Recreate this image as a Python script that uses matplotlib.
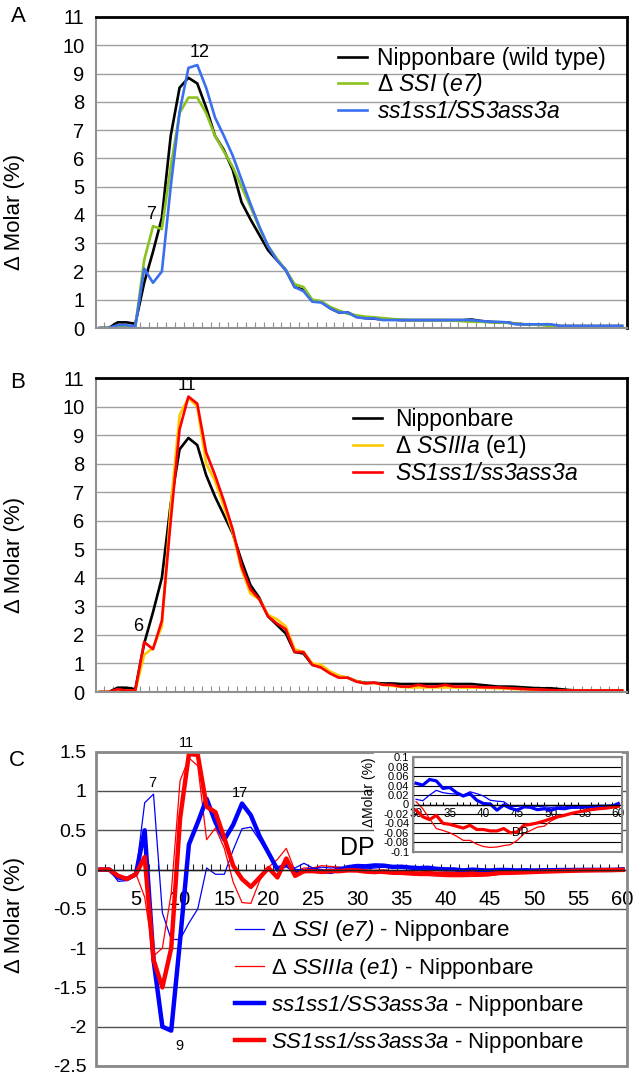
import numpy as np
import matplotlib
matplotlib.use("Agg")
import matplotlib.pyplot as plt
from matplotlib.patches import Rectangle

plt.rcParams['font.family'] = ['Liberation Sans', 'DejaVu Sans']
plt.rcParams['mathtext.fontset'] = 'custom'
plt.rcParams['mathtext.rm'] = 'Liberation Sans:italic'
plt.rcParams['mathtext.it'] = 'Liberation Sans:italic'
plt.rcParams['mathtext.bf'] = 'Liberation Sans:bold'
plt.rcParams['mathtext.sf'] = 'Liberation Sans:italic'

# ---------------- data ----------------
dp = np.arange(1, 61)

# Panel A
a_nip = [0, 0, 0.2, 0.2, 0.15, 1.6, 2.7, 3.9, 6.8, 8.5,
         8.85, 8.65, 7.8, 6.8, 6.3, 5.6, 4.45, 3.85, 3.3, 2.75,
         2.4, 2.05, 1.45, 1.35, 0.95, 0.93, 0.7, 0.55, 0.55, 0.4,
         0.35, 0.33, 0.3, 0.3, 0.28, 0.28, 0.28, 0.28, 0.28, 0.28,
         0.28, 0.28, 0.3, 0.25, 0.22, 0.2, 0.2, 0.15, 0.13, 0.13,
         0.12, 0.1, 0.07, 0.07, 0.07, 0.07, 0.07, 0.07, 0.07, 0.07]
a_ssi = [0, 0, 0.05, 0.05, 0.05, 2.4, 3.6, 3.5, 5.7, 7.6,
         8.15, 8.15, 7.6, 6.8, 6.25, 5.7, 5.0, 4.3, 3.55, 2.9,
         2.45, 2.05, 1.55, 1.45, 1.0, 0.95, 0.75, 0.62, 0.5, 0.45,
         0.4, 0.38, 0.35, 0.32, 0.3, 0.28, 0.28, 0.28, 0.28, 0.28,
         0.26, 0.24, 0.22, 0.22, 0.2, 0.2, 0.18, 0.15, 0.13, 0.12,
         0.1, 0.07, 0.05, 0.05, 0.05, 0.05, 0.05, 0.05, 0.05, 0.05]
a_dbl = [0, 0, 0.1, 0.1, 0.05, 2.1, 1.6, 2.0, 5.0, 7.65,
         9.2, 9.3, 8.5, 7.45, 6.8, 6.1, 5.25, 4.4, 3.6, 2.9,
         2.4, 2.05, 1.45, 1.3, 0.93, 0.9, 0.7, 0.55, 0.55, 0.38,
         0.34, 0.34, 0.28, 0.28, 0.28, 0.28, 0.28, 0.28, 0.28, 0.28,
         0.28, 0.28, 0.28, 0.25, 0.22, 0.22, 0.2, 0.13, 0.13, 0.13,
         0.13, 0.13, 0.07, 0.07, 0.07, 0.07, 0.07, 0.07, 0.07, 0.07]

# Panel B
b_nip = [0, 0, 0.15, 0.15, 0.1, 1.7, 2.8, 4.0, 6.6, 8.5,
         8.9, 8.65, 7.6, 6.85, 6.2, 5.55, 4.6, 3.75, 3.3, 2.65,
         2.35, 2.05, 1.4, 1.35, 0.95, 0.9, 0.7, 0.55, 0.5, 0.38,
         0.32, 0.32, 0.3, 0.3, 0.28, 0.28, 0.28, 0.28, 0.28, 0.28,
         0.28, 0.28, 0.28, 0.25, 0.22, 0.19, 0.19, 0.18, 0.16, 0.14,
         0.13, 0.13, 0.1, 0.07, 0.05, 0.05, 0.05, 0.05, 0.05, 0.05]
b_ssiiia = [0, 0, 0.05, 0.05, 0.05, 1.3, 1.55, 2.3, 6.5, 9.7,
            10.3, 10.0, 8.0, 7.4, 6.5, 5.6, 4.3, 3.45, 3.25, 2.7,
            2.55, 2.3, 1.5, 1.4, 1.0, 0.95, 0.72, 0.58, 0.5, 0.38,
            0.3, 0.32, 0.25, 0.22, 0.18, 0.16, 0.16, 0.16, 0.16, 0.16,
            0.16, 0.15, 0.15, 0.15, 0.14, 0.13, 0.12, 0.1, 0.1, 0.08,
            0.07, 0.05, 0.04, 0.04, 0.04, 0.04, 0.04, 0.04, 0.04, 0.04]
b_dbl = [0, 0, 0.1, 0.05, 0.05, 1.75, 1.5, 2.5, 6.0, 9.2,
         10.35, 10.1, 8.4, 7.6, 6.7, 5.7, 4.4, 3.6, 3.25, 2.65,
         2.4, 2.2, 1.4, 1.4, 0.95, 0.85, 0.65, 0.5, 0.5, 0.36,
         0.3, 0.33, 0.25, 0.25, 0.19, 0.19, 0.25, 0.19, 0.19, 0.25,
         0.19, 0.19, 0.19, 0.17, 0.16, 0.16, 0.14, 0.12, 0.1, 0.09,
         0.08, 0.07, 0.05, 0.05, 0.05, 0.05, 0.05, 0.05, 0.05, 0.05]

# Panel C (difference from Nipponbare)
c_ssi = [0, 0, -0.15, -0.14, -0.06, 0.85, 0.96, -0.55, -0.89, -0.89,
         -0.68, -0.5, 0.02, -0.06, -0.06, 0.25, 0.52, 0.54, 0.37, 0.19,
         0.04, 0.05, 0.02, 0.08, 0.02, 0.03, 0.02, 0.03, 0.02, 0.011,
         0.008, 0.02, 0.03, 0.025, 0.023, 0.022, 0.02, 0.027, 0.023, 0.018,
         0.009, 0.007, 0.006, -0.004, -0.004, -0.002, -0.003, -0.004, -0.005, -0.006,
         -0.005, -0.005, -0.004, -0.004, -0.003, -0.003, -0.002, -0.002, -0.001, 0.001]
c_ssiiia = [0, 0, -0.1, -0.1, -0.05, -0.35, -1.1, -1.0, -0.3, 1.13,
            1.42, 1.32, 0.38, 0.53, 0.27, -0.16, -0.42, -0.43, -0.14, 0.03,
            0.13, 0.27, -0.02, 0.02, 0.02, 0.05, 0.04, 0.03, 0.01, 0.006,
            -0.009, -0.03, -0.051, -0.055, -0.06, -0.067, -0.076, -0.076, -0.084, -0.089,
            -0.091, -0.09, -0.087, -0.085, -0.076, -0.062, -0.055, -0.048, -0.046, -0.035,
            -0.028, -0.023, -0.019, -0.016, -0.013, -0.011, -0.009, -0.008, -0.006, -0.004]
c_ss1 = [0, 0, -0.1, -0.12, -0.06, 0.5, -1.15, -2.0, -2.05, -0.9,
         0.32, 0.6, 0.9, 0.6, 0.38, 0.57, 0.84, 0.69, 0.42, 0.21,
         0.0, 0.06, -0.02, -0.02, 0.0, -0.02, -0.03, 0.0, 0.03, 0.045,
         0.041, 0.053, 0.05, 0.034, 0.036, 0.025, 0.018, 0.023, 0.009, 0.002,
         0.001, -0.012, -0.001, -0.008, -0.012, -0.005, -0.006, -0.011, -0.009, -0.012,
         -0.008, -0.009, -0.006, -0.006, -0.005, -0.004, -0.004, -0.004, -0.004, 0.002]
c_ss3 = [0, 0, -0.08, -0.12, -0.06, 0.16, -1.15, -1.5, -1.0, 0.65,
         1.47, 1.46, 0.8, 0.73, 0.4, 0.05, -0.12, -0.22, -0.1, 0.02,
         -0.1, 0.14, -0.08, -0.02, -0.02, -0.03, -0.02, -0.02, -0.01, -0.012,
         -0.026, -0.032, -0.023, -0.04, -0.042, -0.046, -0.05, -0.044, -0.053, -0.053,
         -0.056, -0.056, -0.051, -0.06, -0.058, -0.044, -0.042, -0.039, -0.035, -0.03,
         -0.026, -0.023, -0.019, -0.016, -0.013, -0.011, -0.009, -0.008, -0.006, -0.004]

ab_yticks = list(range(0, 12))
c_yticks = [1.5, 1, 0.5, 0, -0.5, -1, -1.5, -2, -2.5]
c_yticklabels = ['1.5', '1', '0.5', '0', '-0.5', '-1', '-1.5', '-2', '-2.5']
c_xticks = list(range(5, 61, 5))
in_yticks = [0.1, 0.08, 0.06, 0.04, 0.02, 0, -0.02, -0.04, -0.06, -0.08, -0.1]
in_yticklabels = ['0.1', '0.08', '0.06', '0.04', '0.02', '0', '-0.02', '-0.04', '-0.06', '-0.08', '-0.1']
in_xticks = list(range(30, 61, 5))

# text inside $...$ is rendered italic (mathtext fonts set to italic above)
labels_a = ['Nipponbare (wild type)', r'Δ $SSI$ ($e7)$', r'$ss1ss1/SS3ass3a$']
labels_b = ['Nipponbare', r'Δ $SSIIIa$ (e1)', r'$SS1ss1/ss3ass3a$']
labels_c = [r'Δ $SSI$ ($e7)$ - Nipponbare',
            r'Δ $SSIIIa$ ($e1$) - Nipponbare',
            r'$ss1ss1/SS3ass3a$ - Nipponbare',
            r'$SS1ss1/ss3ass3a$ - Nipponbare']

# ---------------- figure ----------------
W, H = 635, 1075
fig = plt.figure(figsize=(W / 100, H / 100), dpi=100)


def rect(x0, y0, x1, y1):
    return [x0 / W, 1 - y1 / H, (x1 - x0) / W, (y1 - y0) / H]


GRID_AB = '#a0a0a0'


def style_ab(ax):
    ax.set_xlim(0.5, 60.5)
    ax.set_ylim(0, 11)
    ax.set_yticks(ab_yticks)
    ax.set_xticks([])
    ax.set_xticks(np.arange(1.5, 60, 1), minor=True)
    ax.tick_params(axis='x', which='minor', direction='in', length=4.5, width=0.8, color='#909090')
    ax.tick_params(axis='y', length=0, pad=8, labelsize=14.5)
    ax.yaxis.grid(True, color=GRID_AB, lw=1)
    ax.set_axisbelow(True)
    for s in ['left', 'bottom']:
        ax.spines[s].set_color('#909090')
        ax.spines[s].set_linewidth(1.5)
    for s in ['top', 'right']:
        ax.spines[s].set_color('black')
        ax.spines[s].set_linewidth(2)
    ax.set_ylabel('Δ Molar (%)', fontsize=16)


# Panel A
axA = fig.add_axes(rect(95.5, 17, 626.5, 328))
style_ab(axA)
axA.yaxis.set_label_coords(-0.133, 0.373)
lA = []
lA += axA.plot(dp, a_nip, color='black', lw=1.9)
lA += axA.plot(dp, a_ssi, color='#8cc21e', lw=1.9)
lA += axA.plot(dp, a_dbl, color='#3a70f0', lw=1.9)
axA.legend(lA, labels_a, loc='upper left', bbox_to_anchor=(0.457, 0.905), frameon=False,
           fontsize=16.5, handlelength=1.25, handletextpad=0.45, labelspacing=0.08,
           borderpad=0, borderaxespad=0)
axA.text(6.8, 4.0, '7', fontsize=13, ha='center', va='center')
axA.text(12.3, 9.75, '12', fontsize=13, ha='center', va='center')
fig.text(18 / W, 1 - 16 / H, 'A', fontsize=16, ha='center', va='center')

# Panel B
axB = fig.add_axes(rect(95.5, 378, 626.5, 692))
style_ab(axB)
axB.yaxis.set_label_coords(-0.133, 0.436)
lB = []
lB += axB.plot(dp, b_nip, color='black', lw=1.9)
lB += axB.plot(dp, b_ssiiia, color='#ffc800', lw=1.9)
lB += axB.plot(dp, b_dbl, color='#ff0000', lw=1.9)
axB.legend(lB, labels_b, loc='upper left', bbox_to_anchor=(0.485, 0.905), frameon=False,
           fontsize=16.5, handlelength=1.25, handletextpad=0.6, labelspacing=0.1,
           borderpad=0, borderaxespad=0)
axB.text(5.3, 2.3, '6', fontsize=13, ha='center', va='center')
axB.text(10.8, 10.75, '11', fontsize=13, ha='center', va='center')
fig.text(18 / W, 1 - 382 / H, 'B', fontsize=16, ha='center', va='center')

# Panel C
axC = fig.add_axes(rect(96, 751.7, 627, 1066))
axC.set_xlim(0.5, 60.5)
axC.set_ylim(-2.5, 1.5)
axC.set_yticks(c_yticks)
axC.set_yticklabels(c_yticklabels)
axC.tick_params(axis='y', length=0, pad=7, labelsize=14)
axC.yaxis.grid(True, color='#505050', lw=1)
axC.set_axisbelow(True)
for s in ['top', 'right', 'left']:
    axC.spines[s].set_visible(False)
axC.spines['bottom'].set_position(('data', 0))
axC.spines['bottom'].set_color('#202020')
axC.spines['bottom'].set_linewidth(1)
axC.set_xticks(c_xticks)
axC.set_xticks(np.arange(1.5, 60, 1), minor=True)
axC.tick_params(axis='x', which='major', length=0, pad=15, labelsize=14.5)
axC.tick_params(axis='x', which='minor', direction='in', length=4, width=0.8, color='#202020')
axC.add_patch(Rectangle((0, 0), 1, 1, transform=axC.transAxes, fill=False,
                        ec='#888888', lw=2, clip_on=False, zorder=5))
axC.set_ylabel('Δ Molar (%)', fontsize=16)
axC.yaxis.set_label_coords(-0.133, 0.482)
lC = []
lC += axC.plot(dp, c_ssi, color='#0000ff', lw=0.9)
lC += axC.plot(dp, c_ssiiia, color='#ff0000', lw=0.9)
lC += axC.plot(dp, c_ss1, color='#0000ff', lw=3.2)
lC += axC.plot(dp, c_ss3, color='#ff0000', lw=3.2)
axC.legend(lC, labels_c, loc='upper left', bbox_to_anchor=(0.262, 0.47), frameon=False,
           fontsize=16, handlelength=1.3, handletextpad=0.3, labelspacing=0.55,
           borderpad=0, borderaxespad=0)
axC.text(6.9, 1.1, '7', fontsize=10.5, ha='center', va='center')
axC.text(10.7, 1.61, '11', fontsize=10.5, ha='center', va='center', clip_on=False)
axC.text(16.8, 0.98, '17', fontsize=10.5, ha='center', va='center')
axC.text(9.9, -2.25, '9', fontsize=10.5, ha='center', va='center')
fig.text(17 / W, 1 - 760 / H, 'C', fontsize=16, ha='center', va='center')

# inset background
fig.add_artist(Rectangle((374 / W, 1 - 856 / H), (622 - 374) / W, (856 - 753) / H,
                         transform=fig.transFigure, fc='white', ec='none', zorder=1))
# "DP" label of panel C, drawn above the inset background
fig.text(30.0, 0.27, 'DP', fontsize=18, ha='center', va='center',
         transform=axC.transData, zorder=3)

axI = fig.add_axes(rect(412.7, 757.3, 621.7, 851.7))
axI.set_zorder(2)
axI.set_xlim(29.5, 60.5)
axI.set_ylim(-0.1, 0.1)
axI.set_yticks(in_yticks)
axI.set_yticklabels(in_yticklabels)
axI.tick_params(axis='y', length=0, pad=2.5, labelsize=8)
axI.yaxis.grid(True, color='black', lw=0.8)
axI.set_axisbelow(True)
for s in ['top', 'right']:
    axI.spines[s].set_visible(False)
axI.spines['left'].set_color('black')
axI.spines['left'].set_linewidth(1)
axI.spines['bottom'].set_position(('data', 0))
axI.spines['bottom'].set_color('black')
axI.spines['bottom'].set_linewidth(1)
axI.set_xticks(in_xticks)
axI.set_xticks(np.arange(30, 61, 1), minor=True)
axI.tick_params(axis='x', which='major', length=0, pad=2.5, labelsize=8.5)
axI.tick_params(axis='x', which='minor', direction='in', length=2.5, width=0.8, color='black')
axI.add_patch(Rectangle((0, 0), 1, 1, transform=axI.transAxes, fill=False,
                        ec='#888888', lw=1.5, clip_on=False, zorder=5))
axI.set_ylabel('ΔMolar (%)', fontsize=10, labelpad=0)
axI.yaxis.set_label_coords(-0.176, 0.627)
axI.plot(dp[29:], c_ssi[29:], color='#0000ff', lw=0.9)
axI.plot(dp[29:], c_ssiiia[29:], color='#ff0000', lw=0.9)
axI.plot(dp[29:], c_ss1[29:], color='#0000ff', lw=2.3)
axI.plot(dp[29:], c_ss3[29:], color='#ff0000', lw=2.3)
axI.text(45.5, -0.06, 'DP', fontsize=8.5, ha='center', va='center')

fig.savefig('out.png', dpi=100)
